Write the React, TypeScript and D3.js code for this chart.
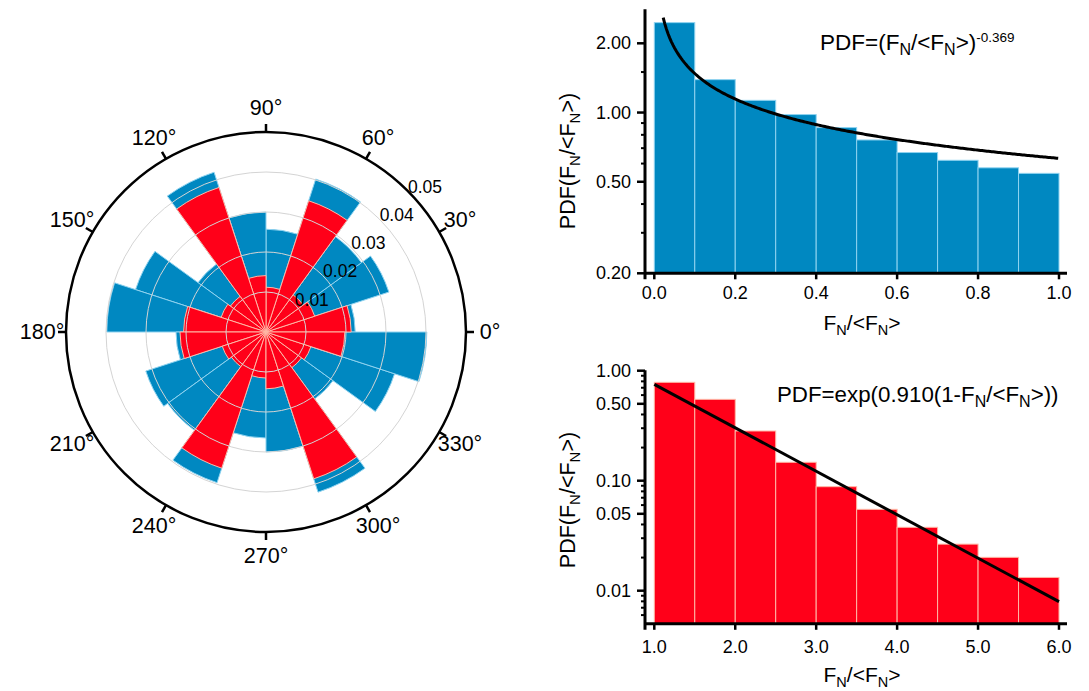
import React from 'react';
import * as d3 from 'd3';

// ---------- Polar rose data (20 bins of 18°) ----------
const binStartDeg = [0, 18, 36, 54, 72, 90, 108, 126, 144, 162, 180, 198, 216, 234, 252, 270, 288, 306, 324, 342];
const binWidthDeg = 18;
const blueFreq = [0.0223, 0.0323, 0.0295, 0.0402, 0.0257, 0.0300, 0.0420, 0.0210, 0.0343, 0.0398,
  0.0225, 0.0316, 0.0304, 0.0396, 0.0265, 0.0300, 0.0421, 0.0207, 0.0338, 0.0402];
const redFreq = [0.0213, 0.0128, 0.0115, 0.0345, 0.0112, 0.0141, 0.0380, 0.0110, 0.0118, 0.0206,
  0.0215, 0.0115, 0.0107, 0.0358, 0.0115, 0.0142, 0.0386, 0.0110, 0.0118, 0.0197];
const rGridValues = [0.01, 0.02, 0.03, 0.04];
const rLabelValues = [0.01, 0.02, 0.03, 0.04, 0.05];
const rMax = 0.05;
const thetaLabels = [0, 30, 60, 90, 120, 150, 180, 210, 240, 270, 300, 330];

// ---------- Top histogram ----------
const topBinEdges = [0, 0.1, 0.2, 0.3, 0.4, 0.5, 0.6, 0.7, 0.8, 0.9, 1.0];
const topPdf = [2.46, 1.39, 1.13, 0.98, 0.86, 0.76, 0.67, 0.62, 0.575, 0.544];
const topFitCoef = 0.632;
const topFitExp = -0.369;
const topXTicks = [0, 0.2, 0.4, 0.6, 0.8, 1.0];
const topYTicks = [0.2, 0.5, 1, 2];
const topYMinor = [0.3, 0.4, 0.6, 0.7, 0.8, 0.9, 1.5];

// ---------- Bottom histogram ----------
const botBinEdges = [1, 1.5, 2, 2.5, 3, 3.5, 4, 4.5, 5, 5.5, 6];
const botPdf = [0.784, 0.549, 0.283, 0.147, 0.0882, 0.0549, 0.0377, 0.0265, 0.0201, 0.0132];
const botFitCoef = 0.752;
const botFitRate = 0.910;
const botXTicks = [1, 2, 3, 4, 5, 6];
const botYTicks = [0.01, 0.05, 0.1, 0.5, 1];
const botYMinor = [0.006, 0.007, 0.008, 0.009, 0.02, 0.03, 0.04, 0.06, 0.07, 0.08, 0.09, 0.2, 0.3, 0.4, 0.6, 0.7, 0.8, 0.9];

const FONT = "'Liberation Sans', Arial, Helvetica, sans-serif";
const BLUE = '#0088C1';
const BLUE_EDGE = '#8FD3F0';
const RED = '#FF0019';
const RED_EDGE = '#FFB8A6';

function FnOverMean({ size = 21, sub = 14.5, shift = 5 }: { size?: number; sub?: number; shift?: number }) {
  return (
    <>
      <tspan fontSize={size}>F</tspan>
      <tspan fontSize={sub} dy={shift}>N</tspan>
      <tspan fontSize={size} dy={-shift}>/&lt;F</tspan>
      <tspan fontSize={sub} dy={shift}>N</tspan>
      <tspan fontSize={size} dy={-shift}>&gt;</tspan>
    </>
  );
}

function Polar() {
  const cx = 266, cy = 332;
  const r = d3.scaleLinear().domain([0, rMax]).range([0, 200]);
  const toRad = (deg: number) => (deg * Math.PI) / 180;
  const arc = d3.arc<any>();
  const wedge = (start: number, v: number) =>
    arc({
      innerRadius: 0,
      outerRadius: r(v),
      startAngle: toRad(90 - (start + binWidthDeg)),
      endAngle: toRad(90 - start),
    }) as string;
  return (
    <g transform={`translate(${cx},${cy})`}>
      {binStartDeg.map((s, i) => (
        <path key={'b' + i} d={wedge(s, blueFreq[i])} fill={BLUE} stroke={BLUE_EDGE} strokeWidth={1} />
      ))}
      {binStartDeg.map((s, i) => (
        <path key={'r' + i} d={wedge(s, redFreq[i])} fill={RED} stroke={RED_EDGE} strokeWidth={1} />
      ))}
      {rGridValues.map((v) => (
        <circle key={'g' + v} r={r(v)} fill="none" stroke="#d4d4d4" strokeWidth={1} />
      ))}
      <circle r={r(rMax)} fill="none" stroke="#000" strokeWidth={2.5} />
      {thetaLabels.map((t) => {
        const a = toRad(t);
        const x1 = r(rMax) * Math.cos(a), y1 = -r(rMax) * Math.sin(a);
        const x2 = (r(rMax) + 8) * Math.cos(a), y2 = -(r(rMax) + 8) * Math.sin(a);
        const lx = 224 * Math.cos(a), ly = -224 * Math.sin(a);
        return (
          <g key={'t' + t}>
            <line x1={x1} y1={y1} x2={x2} y2={y2} stroke="#000" strokeWidth={2.5} />
            <text x={lx} y={ly} textAnchor="middle" dominantBaseline="central" fontSize={21.5} fontFamily={FONT} fill="#000">
              {t}°
            </text>
          </g>
        );
      })}
      {rLabelValues.map((v) => {
        const a = toRad(45);
        const x = r(v) * Math.cos(a) + 0.5, y = -r(v) * Math.sin(a) + 2;
        return (
          <text key={'rl' + v} x={x} y={y} fontSize={17.5} fontFamily={FONT} fill="#000">
            {v.toFixed(2)}
          </text>
        );
      })}
    </g>
  );
}

function Histogram(props: {
  edges: number[]; pdf: number[]; xDomain: [number, number]; yDomain: [number, number];
  yRange: [number, number]; xTicks: number[]; xFmt: (v: number) => string; yTicks: number[]; yMinor: number[];
  fit: [number, number][]; fill: string; edge: string; xLabelY: number; tickLabelY: number; yLabelCy: number;
  formula: React.ReactNode;
}) {
  const { edges, pdf, xDomain, yDomain, yRange, xTicks, xFmt, yTicks, yMinor, fit, fill, edge } = props;
  const x = d3.scaleLinear().domain(xDomain).range([654.3, 1059]);
  const y = d3.scaleLog().domain(yDomain).range(yRange);
  const spineX = 645;
  const axisY = yRange[0];
  const topY = yRange[1];
  const line = d3.line<[number, number]>().x((d) => x(d[0])).y((d) => y(d[1]));
  return (
    <g>
      {pdf.map((v, i) => (
        <rect key={i} x={x(edges[i])} y={y(v)} width={x(edges[i + 1]) - x(edges[i])} height={axisY - y(v)}
          fill={fill} stroke={edge} strokeWidth={1} />
      ))}
      <path d={line(fit) as string} fill="none" stroke="#000" strokeWidth={3} />
      {/* spines */}
      <line x1={spineX} y1={topY - 0.5} x2={spineX} y2={axisY + 6} stroke="#000" strokeWidth={3} />
      <line x1={spineX} y1={axisY} x2={1067} y2={axisY} stroke="#000" strokeWidth={3} />
      {xTicks.map((t) => (
        <g key={'xt' + t}>
          <line x1={x(t)} x2={x(t)} y1={axisY} y2={axisY + 6} stroke="#000" strokeWidth={2.5} />
          <text x={x(t)} y={props.tickLabelY} textAnchor="middle" fontSize={18} fontFamily={FONT}>{xFmt(t)}</text>
        </g>
      ))}
      {yTicks.map((t) => (
        <g key={'yt' + t}>
          <line x1={spineX - 8} x2={spineX} y1={y(t)} y2={y(t)} stroke="#000" strokeWidth={2.5} />
          <text x={631} y={y(t)} textAnchor="end" dominantBaseline="central" fontSize={18} fontFamily={FONT}>
            {t.toFixed(2)}
          </text>
        </g>
      ))}
      {yMinor.map((t) => (
        <line key={'ym' + t} x1={spineX - 4} x2={spineX} y1={y(t)} y2={y(t)} stroke="#000" strokeWidth={2} />
      ))}
      <text x={862} y={props.xLabelY} textAnchor="middle" fontFamily={FONT} fill="#000">
        <FnOverMean />
      </text>
      <text transform={`translate(575,${props.yLabelCy}) rotate(-90)`} textAnchor="middle" fontFamily={FONT} fill="#000">
        <tspan fontSize={21.5}>PDF(</tspan>
        <FnOverMean size={21.5} sub={15} />
        <tspan fontSize={21.5}>)</tspan>
      </text>
      {props.formula}
    </g>
  );
}

export default function App() {
  const topFit: [number, number][] = d3.range(0.022, 1.0001, 0.004).map((v) => [v, topFitCoef * Math.pow(v, topFitExp)]);
  const botFit: [number, number][] = [1, 6].map((v) => [v, botFitCoef * Math.exp(botFitRate * (1 - v))]);
  return (
    <div style={{ position: 'absolute', left: 0, top: 0 }}>
      <svg width={1089} height={691} viewBox="0 0 1089 691" style={{ display: 'block', background: '#fff' }}>
        <Polar />
        <Histogram
          edges={topBinEdges} pdf={topPdf} xDomain={[0, 1]} yDomain={[0.2, 2.8]} yRange={[273.3, 9.7]}
          xTicks={topXTicks} xFmt={(v) => v.toFixed(1)} yTicks={topYTicks} yMinor={topYMinor}
          fit={topFit} fill={BLUE} edge={BLUE_EDGE} xLabelY={330} tickLabelY={299} yLabelCy={161}
          formula={
            <text x={820} y={50} fontFamily={FONT} fill="#000">
              <tspan fontSize={22.5}>PDF=(</tspan>
              <FnOverMean size={22.5} sub={16} />
              <tspan fontSize={22.5}>)</tspan>
              <tspan fontSize={13.5} dy={-8.5}>-0.369</tspan>
            </text>
          }
        />
        <Histogram
          edges={botBinEdges} pdf={botPdf} xDomain={[1, 6]} yDomain={[0.005, 1]} yRange={[623.8, 370.7]}
          xTicks={botXTicks} xFmt={(v) => v.toFixed(1)} yTicks={botYTicks} yMinor={botYMinor}
          fit={botFit} fill={RED} edge={RED_EDGE} xLabelY={681.5} tickLabelY={653} yLabelCy={500}
          formula={
            <text x={777} y={401.5} fontFamily={FONT} fill="#000">
              <tspan fontSize={22.3}>PDF=exp(0.910(1-</tspan>
              <FnOverMean size={22.3} sub={16} />
              <tspan fontSize={22.3}>))</tspan>
            </text>
          }
        />
      </svg>
    </div>
  );
}
